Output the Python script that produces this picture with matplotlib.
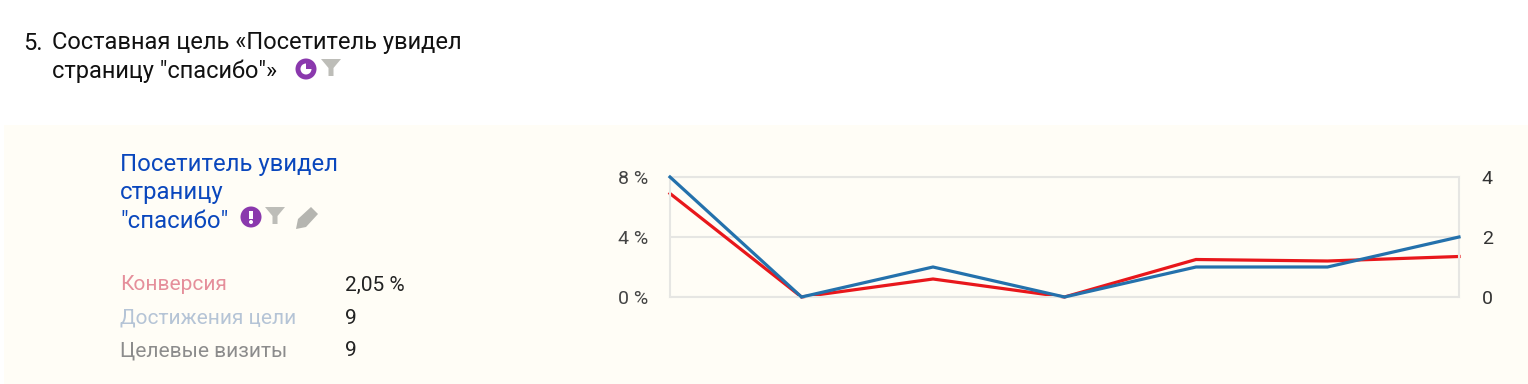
import matplotlib
matplotlib.use("Agg")
import matplotlib.pyplot as plt
from matplotlib.patches import Rectangle, Circle, Polygon, Wedge

plt.rcParams['font.family'] = ['Roboto', 'DejaVu Sans']

W, H = 1528, 384
BG = '#fffdf6'
GRID = '#e6e6e3'

x = [0, 1, 2, 3, 4, 5, 6]
conversion = [6.9, 0, 1.2, 0, 2.5, 2.4, 2.7]
goal_reached = [4, 0, 1, 0, 1, 1, 2]
left_ticks = [0, 4, 8]
left_labels = ['0 %', '4 %', '8 %']
right_ticks = [0, 2, 4]
stat_names = ['Конверсия', 'Достижения цели', 'Целевые визиты']
stat_values = ['2,05 %', '9', '9']
stat_colors = ['#e58f9b', '#b5c4d6', '#8c8c8c']

fig = plt.figure(figsize=(W / 100, H / 100), dpi=100, facecolor='white')

# overlay in pixel coords for panel, text and icons
bg = fig.add_axes([0, 0, 1, 1], zorder=0)
bg.set_xlim(0, W)
bg.set_ylim(H, 0)
bg.axis('off')
bg.add_patch(Rectangle((4, 125), W - 4, H - 125, color=BG, lw=0))

bg.text(23, 43, '5.', fontsize=17, color='#111111', va='center')
bg.text(52, 43, 'Составная цель «Посетитель увидел', fontsize=17, color='#111111', va='center')
bg.text(52, 71, 'страницу "спасибо"»', fontsize=17, color='#111111', va='center')

blue = '#0a47bd'
bg.text(120, 164, 'Посетитель увидел', fontsize=17.2, color=blue, va='center')
bg.text(120, 192, 'страницу', fontsize=17.2, color=blue, va='center')
bg.text(120, 221, '"спасибо"', fontsize=17.2, color=blue, va='center')

for i, y in enumerate([285, 318, 351]):
    bg.text(120, y, stat_names[i], fontsize=15, color=stat_colors[i], va='center')
    bg.text(345, y, stat_values[i], fontsize=15, color='#222222', va='center')


def funnel(cx, cy):
    bg.add_patch(Polygon([(cx - 10, cy - 9), (cx + 10, cy - 9), (cx + 2.5, cy), (cx + 2.5, cy + 8),
                          (cx - 2.5, cy + 8), (cx - 2.5, cy)], color='#bdbdb8', lw=0))


# purple pie icon
bg.add_patch(Circle((306, 69), 10.5, color='#8a38ad', lw=0))
bg.add_patch(Circle((306, 69), 5.5, color='white', lw=0))
bg.add_patch(Wedge((306, 69), 6, 270, 360, color='#8a38ad', lw=0))
funnel(331, 68)

# purple warning icon
bg.add_patch(Circle((251, 217), 10.5, color='#8a38ad', lw=0))
bg.add_patch(Rectangle((249, 211), 4, 8, color='white', lw=0))
bg.add_patch(Circle((251, 222), 2, color='white', lw=0))
funnel(275, 216)

# pencil icon
bg.add_patch(Polygon([(296, 229), (298, 219), (311, 207), (318, 214), (306, 227)], color='#b5b5b0', lw=0))

# chart
ax = fig.add_axes([670 / W, 1 - 297 / H, (1459 - 670) / W, (297 - 177) / H], zorder=1)
ax.patch.set_alpha(0)
ax.set_xlim(0, 6)
ax.set_ylim(0, 8)
ax.set_xticks([])
ax.set_yticks(left_ticks)
ax.set_yticklabels(left_labels)
ax.tick_params(axis='y', length=0, pad=16, labelsize=14, labelcolor='#444444')
ax.yaxis.grid(True, color=GRID, lw=1.5)
ax.set_axisbelow(True)
for s in ax.spines.values():
    s.set_color(GRID)
    s.set_linewidth(1.5)
ax.plot(x, conversion, color='#e8171b', lw=2.3, clip_on=False, solid_joinstyle='miter')

ax2 = ax.twinx()
ax2.set_ylim(0, 4)
ax2.set_yticks(right_ticks)
ax2.tick_params(axis='y', length=0, pad=16.5, labelsize=14, labelcolor='#333333')
for s in ax2.spines.values():
    s.set_visible(False)
ax2.plot(x, goal_reached, color='#2471ac', lw=2.3, clip_on=False, solid_joinstyle='miter')

fig.savefig('out.png', dpi=100)
